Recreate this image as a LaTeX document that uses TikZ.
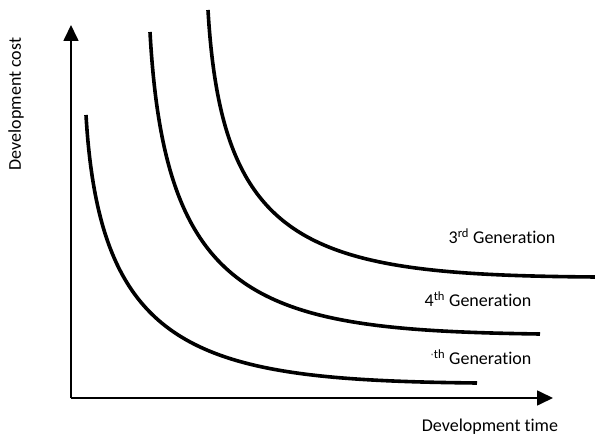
\documentclass[tikz,border=0pt]{standalone}
\usepackage{fontspec}
\setmainfont[Ligatures=NoCommon]{Carlito}
\usetikzlibrary{arrows.meta}
\begin{document}
\begin{tikzpicture}[x=1pt,y=-1pt,
  axis/.style={line width=1.7pt,-{Triangle[length=16pt,width=15pt]}},
  curve/.style={line width=3.6pt},
  lbl/.style={font=\fontsize{18}{21}\selectfont,inner sep=0pt}]
\useasboundingbox (0,0) rectangle (595,436);
\coordinate (O) at (71,398);
\coordinate (ytip) at (71,25);
\coordinate (xtip) at (553,398);
\draw[axis] (O) -- (ytip);
\draw[axis] (O) -- (xtip);
% 5th generation
\coordinate (a0) at (86,115);
\coordinate (a1) at (477,383);
\draw[curve] (a0) .. controls (100,355) and (200,380) .. (a1);
% 4th generation
\coordinate (b0) at (150,32);
\coordinate (b1) at (540,334);
\draw[curve] (b0) .. controls (165,305) and (260,330) .. (b1);
% 3rd generation
\coordinate (c0) at (208,10);
\coordinate (c1) at (597,277);
\draw[curve] (c0) .. controls (222,250) and (310,275) .. (c1);
\node[lbl] (g3) at (502,236) {3\textsuperscript{rd} Generation};
\node[lbl] (g4) at (478,299) {4\textsuperscript{th} Generation};
\node[lbl] (g5) at (481,357) {\textsuperscript{\textcolor{gray}{·}th} Generation};
\node[lbl,rotate=90] (ylab) at (16,104) {Development cost};
\node[lbl] (xlab) at (490,427) {Development time};
\end{tikzpicture}
\end{document}
